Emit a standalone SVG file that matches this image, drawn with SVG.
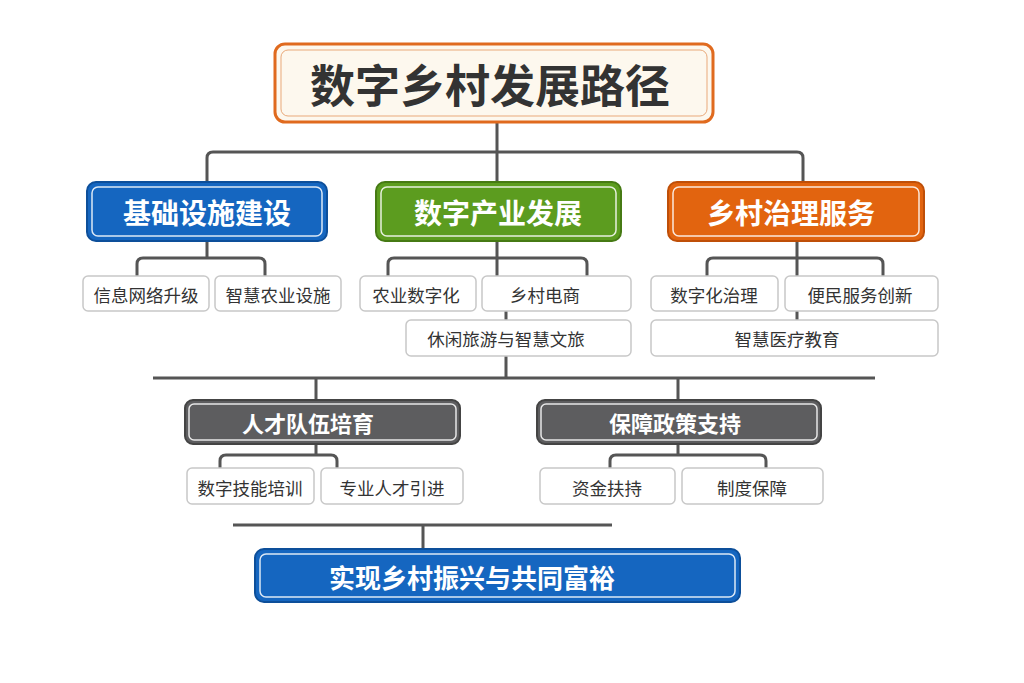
<svg xmlns="http://www.w3.org/2000/svg" width="1024" height="683" viewBox="0 0 1024 683">
<style>
text{font-family:"Noto Sans CJK SC","Noto Sans",sans-serif;text-anchor:middle;dominant-baseline:central}
.c{fill:none;stroke:#555;stroke-width:3;stroke-linejoin:round}
.m text{font-weight:700;font-size:28px;fill:#fff}
.m .in{fill:none;stroke:#fff;stroke-width:1.5;opacity:.85}
.l rect{fill:#fff;stroke:#c8c8c8;stroke-width:1.5}
.l text{font-size:17.5px;fill:#333}
</style>
<rect width="1024" height="683" fill="#fff"/>
<g id="connectors" class="c">
<path d="M497 122V152M207 182V158Q207 152 213 152H797Q803 152 803 158V182M497 152V182"/>
<path d="M207 241V258M137 276V264Q137 258 143 258H259Q265 258 265 264V276"/>
<path d="M497 241V276M388 276V264Q388 258 394 258H581Q587 258 587 264V276M506 311V320M506 356V378"/>
<path d="M797 241V276M707 276V264Q707 258 713 258H877Q883 258 883 264V276M797 311V320"/>
<path d="M153 378H875M316 378V400M678 378V400"/>
<path d="M316 444V455M220 468V461Q220 455 226 455H331Q337 455 337 461V468"/>
<path d="M678 444V455M610 468V461Q610 455 616 455H760Q766 455 766 461V468"/>
<path d="M233 525H612M423 525V549"/>
</g>
<g id="title">
<rect x="275" y="44" width="438" height="78" rx="10" fill="#fdf8ee" stroke="#e06a1e" stroke-width="3"/>
<rect x="281" y="50" width="426" height="66" rx="7" fill="none" stroke="#e9a97a" stroke-width="1"/>
<text x="490" y="83" font-size="45" font-weight="700" fill="#333">数字乡村发展路径</text>
</g>
<g id="infra" class="m"><rect x="87" y="182" width="240" height="59" rx="9" fill="#1566c0" stroke="#0d4f9a" stroke-width="2"/><rect class="in" x="92" y="187" width="230" height="49" rx="6"/><text x="207" y="212">基础设施建设</text></g>
<g id="industry" class="m"><rect x="376" y="182" width="245" height="59" rx="9" fill="#5c9c1f" stroke="#467a14" stroke-width="2"/><rect class="in" x="381" y="187" width="235" height="49" rx="6"/><text x="498" y="212">数字产业发展</text></g>
<g id="gov" class="m"><rect x="668" y="182" width="256" height="59" rx="9" fill="#e2640f" stroke="#bf4f08" stroke-width="2"/><rect class="in" x="673" y="187" width="246" height="49" rx="6"/><text x="791" y="212">乡村治理服务</text></g>
<g id="talent" class="m"><rect x="185" y="400" width="275" height="44" rx="8" fill="#5d5d5f" stroke="#444" stroke-width="2"/><rect class="in" x="189" y="404" width="267" height="36" rx="5"/><text x="308" y="422" style="font-size:22px">人才队伍培育</text></g>
<g id="policy" class="m"><rect x="537" y="400" width="284" height="44" rx="8" fill="#5d5d5f" stroke="#444" stroke-width="2"/><rect class="in" x="541" y="404" width="276" height="36" rx="5"/><text x="675" y="422" style="font-size:22px">保障政策支持</text></g>
<g id="goal" class="m"><rect x="255" y="549" width="485" height="53" rx="9" fill="#1566c0" stroke="#0d4f9a" stroke-width="2"/><rect class="in" x="260" y="554" width="475" height="43" rx="6"/><text x="472" y="576" style="font-size:26px">实现乡村振兴与共同富裕</text></g>
<g id="n1" class="l"><rect x="83" y="276" width="126" height="35" rx="5"/><text x="146" y="294">信息网络升级</text></g>
<g id="n2" class="l"><rect x="215" y="276" width="126" height="35" rx="5"/><text x="278" y="294">智慧农业设施</text></g>
<g id="n3" class="l"><rect x="360" y="276" width="116" height="35" rx="5"/><text x="416" y="294">农业数字化</text></g>
<g id="n4" class="l"><rect x="482" y="276" width="149" height="35" rx="5"/><text x="545" y="294">乡村电商</text></g>
<g id="n5" class="l"><rect x="406" y="320" width="225" height="36" rx="5"/><text x="506" y="338">休闲旅游与智慧文旅</text></g>
<g id="n6" class="l"><rect x="651" y="276" width="127" height="35" rx="5"/><text x="714" y="294">数字化治理</text></g>
<g id="n7" class="l"><rect x="785" y="276" width="153" height="35" rx="5"/><text x="860" y="294">便民服务创新</text></g>
<g id="n8" class="l"><rect x="651" y="320" width="287" height="36" rx="5"/><text x="787" y="338">智慧医疗教育</text></g>
<g id="n9" class="l"><rect x="187" y="468" width="127" height="36" rx="5"/><text x="250" y="487">数字技能培训</text></g>
<g id="n10" class="l"><rect x="321" y="468" width="142" height="36" rx="5"/><text x="392" y="487">专业人才引进</text></g>
<g id="n11" class="l"><rect x="540" y="468" width="135" height="36" rx="5"/><text x="607" y="487">资金扶持</text></g>
<g id="n12" class="l"><rect x="682" y="468" width="141" height="36" rx="5"/><text x="752" y="487">制度保障</text></g>
</svg>
